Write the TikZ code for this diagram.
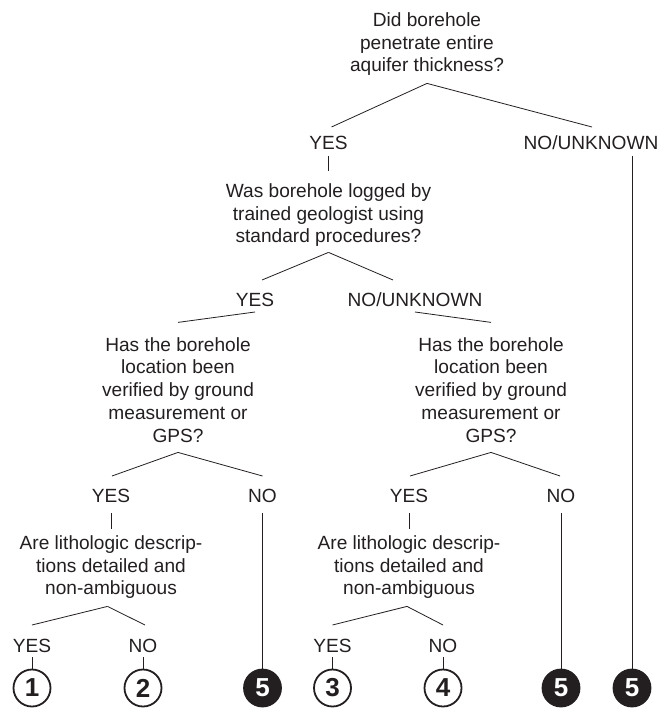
\documentclass[tikz,border=0pt]{standalone}
\usepackage{fontspec}
\setmainfont{Liberation Sans}
\definecolor{ink}{HTML}{231F20}
\begin{document}
\begin{tikzpicture}[x=1pt,y=-1pt,
  every node/.style={text=ink},
  q/.style={align=center, inner sep=0pt, font=\fontsize{19.1}{22.7}\selectfont},
  ans/.style={anchor=base, inner sep=0pt, font=\fontsize{19.1}{22.7}\selectfont},
  conn/.style={draw=ink, line width=0.8pt},
  outc/.style={circle, draw=ink, line width=1.8pt, minimum size=37pt, inner sep=0pt, font=\fontsize{26}{26}\selectfont\bfseries},
  outf/.style={outc, fill=ink, text=white}]
\useasboundingbox (0,0) rectangle (659,708);

% questions and answers
\node[q] (q1) at (427,44.2) {Did borehole\\penetrate entire\\aquifer thickness?};
\node[ans] (y1) at (328.5,150) {YES};
\node[ans] (n1) at (591,150) {NO/UNKNOWN};
\node[q] (q2) at (328.5,215.2) {Was borehole logged by\\trained geologist using\\standard procedures?};
\node[ans] (y2) at (255,306.5) {YES};
\node[ans] (n2) at (415,306.5) {NO/UNKNOWN};
\node[q] (q3l) at (178,389.8) {Has the borehole\\location been\\verified by ground\\measurement or\\GPS?};
\node[q] (q3r) at (491,389.8) {Has the borehole\\location been\\verified by ground\\measurement or\\GPS?};
\node[ans] (y3l) at (111,502) {YES};
\node[ans] (n3l) at (262.5,502) {NO};
\node[ans] (y3r) at (409,502) {YES};
\node[ans] (n3r) at (561,502) {NO};
\node[q] (q4l) at (111,567.2) {Are lithologic descrip-\\tions detailed and\\non-ambiguous};
\node[q] (q4r) at (409,567.2) {Are lithologic descrip-\\tions detailed and\\non-ambiguous};
\node[ans] (y4l) at (32,652) {YES};
\node[ans] (n4l) at (143,652) {NO};
\node[ans] (y4r) at (332.5,652) {YES};
\node[ans] (n4r) at (443,652) {NO};

% outcomes
\node[outc] (c1) at (32,688) {1};
\node[outc] (c2) at (143,688) {2};
\node[outf] (c5a) at (262.5,688) {5};
\node[outc] (c3) at (332.5,688) {3};
\node[outc] (c4) at (443,688) {4};
\node[outf] (c5b) at (561,688) {5};
\node[outf] (c5c) at (632,688) {5};

% connectors
\draw[conn] ([yshift=-7.4pt]q1.south) -- ([xshift=3pt,yshift=23pt]y1.base);
\draw[conn] ([yshift=-7.4pt]q1.south) -- ([xshift=1pt,yshift=23pt]n1.base);
\draw[conn] ([yshift=-6pt]y1.base) -- ([yshift=12pt]q2.north);
\coordinate (n1b) at ([yshift=-6pt]n1.base);
\draw[conn] (n1b -| c5c) -- (c5c.north);

\draw[conn] ([yshift=-5.4pt]q2.south) -- ([xshift=7pt,yshift=26.5pt]y2.base);
\draw[conn] ([yshift=-5.4pt]q2.south) -- ([xshift=-22pt,yshift=26.5pt]n2.base);
\draw[conn] ([yshift=-5.5pt]y2.base) -- ([yshift=14.8pt]q3l.north);
\draw[conn] ([yshift=-5.5pt]n2.base) -- ([yshift=14.8pt]q3r.north);

\draw[conn] ([yshift=-10pt]q3l.south) -- ([xshift=1pt,yshift=26pt]y3l.base);
\draw[conn] ([yshift=-10pt]q3l.south) -- ([yshift=26pt]n3l.base);
\draw[conn] ([yshift=-10pt]q3r.south) -- ([xshift=1pt,yshift=26pt]y3r.base);
\draw[conn] ([yshift=-10pt]q3r.south) -- ([xshift=-1pt,yshift=26pt]n3r.base);

\draw[conn] ([yshift=-11pt]y3l.base) -- ([yshift=6pt]q4l.north);
\draw[conn] ([yshift=-11pt]y3r.base) -- ([yshift=6pt]q4r.north);
\draw[conn] ([yshift=-11pt]n3l.base) -- (c5a.north);
\draw[conn] ([yshift=-11pt]n3r.base) -- (c5b.north);

\draw[conn] ([xshift=-3.5pt,yshift=-7.4pt]q4l.south) -- ([yshift=27pt]y4l.base);
\draw[conn] ([xshift=-3.5pt,yshift=-7.4pt]q4l.south) -- ([xshift=2pt,yshift=27pt]n4l.base);
\draw[conn] ([xshift=-2pt,yshift=-7.4pt]q4r.south) -- ([yshift=27pt]y4r.base);
\draw[conn] ([xshift=-2pt,yshift=-7.4pt]q4r.south) -- ([yshift=27pt]n4r.base);

\draw[conn] ([yshift=-5pt]y4l.base) -- (c1.north);
\draw[conn] ([yshift=-5pt]n4l.base) -- (c2.north);
\draw[conn] ([yshift=-5pt]y4r.base) -- (c3.north);
\draw[conn] ([yshift=-5pt]n4r.base) -- (c4.north);
\end{tikzpicture}
\end{document}
